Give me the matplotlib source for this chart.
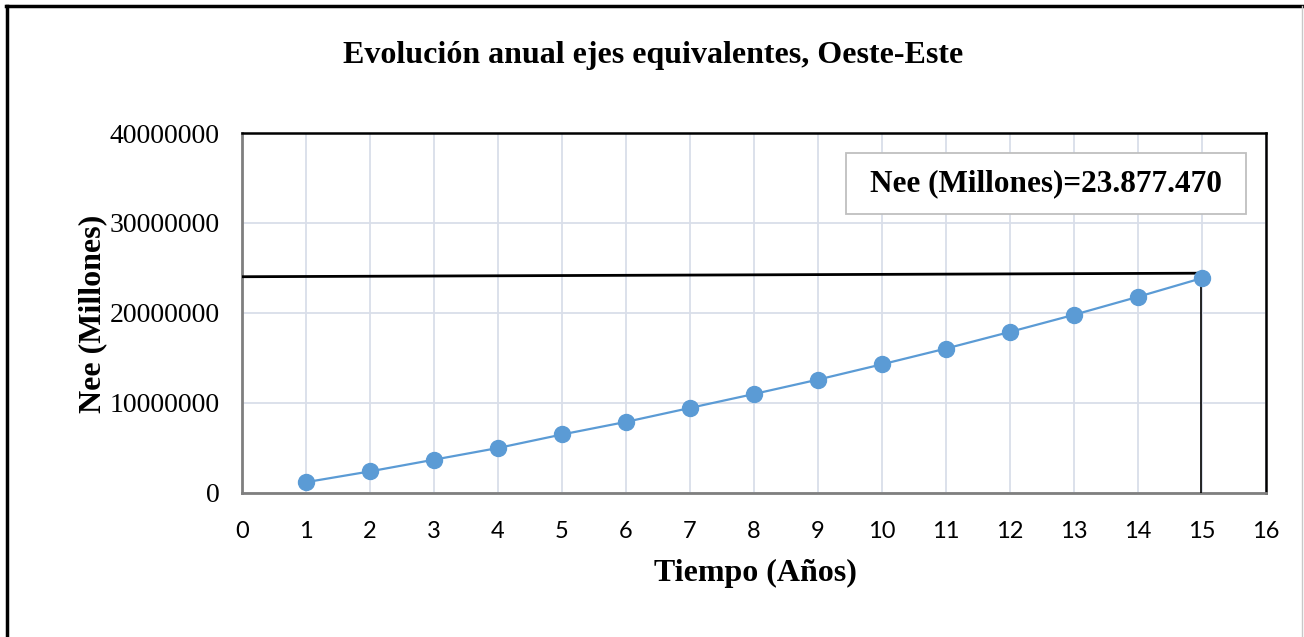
import matplotlib.pyplot as plt
from matplotlib.lines import Line2D
from matplotlib.patches import Rectangle

# años y ejes equivalentes acumulados
years = [1, 2, 3, 4, 5, 6, 7, 8, 9, 10, 11, 12, 13, 14, 15]
nee = [1.2e6, 2.4e6, 3.7e6, 5.0e6, 6.5e6, 7.9e6, 9.45e6, 11.0e6, 12.6e6,
       14.3e6, 16.05e6, 17.9e6, 19.8e6, 21.8e6, 23.877470e6]

# líneas de referencia dibujadas a mano
href_x = [0, 14.92]
href_y = [24.03e6, 24.42e6]
vref_x = [14.99, 14.99]
vref_y = [24.2e6, 0]

xticks = list(range(0, 17))
yticks = [0, 10000000, 20000000, 30000000, 40000000]

SERIF = ["Liberation Serif", "DejaVu Serif"]
SANS = ["Lato", "Liberation Sans", "DejaVu Sans"]
BLUE = "#5B9BD5"
GRID = "#D9DEE9"

fig = plt.figure(figsize=(13.04, 6.37), dpi=100)
ax = fig.add_axes([0.1856, 0.2261, 0.7853, 0.5651])

ax.plot(years, nee, color=BLUE, lw=1.6, marker="o", ms=11.5,
        markerfacecolor=BLUE, markeredgecolor=BLUE, zorder=4)
ax.plot(href_x, href_y, color="black", lw=2.0, zorder=3)
ax.plot(vref_x, vref_y, color="black", lw=1.2, zorder=3)

ax.set_xlim(0, 16)
ax.set_ylim(0, 40000000)
ax.set_xticks(xticks)
ax.set_yticks(yticks)
ax.set_xticklabels([str(t) for t in xticks], family=SANS, fontsize=17)
ax.set_yticklabels([str(t) for t in yticks], family=SERIF, fontsize=20)
ax.tick_params(axis="both", length=0)
ax.tick_params(axis="x", pad=20)
ax.tick_params(axis="y", pad=16)
ax.grid(True, color=GRID, lw=1.3, zorder=0)
ax.set_axisbelow(True)

for side in ("top", "right"):
    ax.spines[side].set_color("black")
    ax.spines[side].set_linewidth(1.8)
for side in ("left", "bottom"):
    ax.spines[side].set_color("#7F7F7F")
    ax.spines[side].set_linewidth(2.0)

# cuadro de anotación
ax.add_patch(Rectangle((0.590, 0.775), 0.390, 0.169, transform=ax.transAxes,
                       fc="white", ec="#BFBFBF", lw=1.3, zorder=5))
ax.text(0.785, 0.86, "Nee (Millones)=23.877.470", transform=ax.transAxes,
        ha="center", va="center", family=SERIF, fontsize=22.5,
        fontweight="bold", zorder=6)

fig.text(0.501, 0.913, "Evolución anual ejes equivalentes, Oeste-Este",
         ha="center", va="center", family=SERIF, fontsize=23, fontweight="bold")
fig.text(0.071, 0.507, "Nee (Millones)", rotation=90, ha="center", va="center",
         family=SERIF, fontsize=23, fontweight="bold")
fig.text(0.579, 0.100, "Tiempo (Años)", ha="center", va="center",
         family=SERIF, fontsize=23, fontweight="bold")

# marco exterior
fig.add_artist(Line2D([0.0055, 0.0055], [0.0, 0.990], transform=fig.transFigure,
                      color="black", lw=2.5))
fig.add_artist(Line2D([0.0045, 0.9985], [0.990, 0.990], transform=fig.transFigure,
                      color="black", lw=2.5))
fig.add_artist(Line2D([0.9985, 0.9985], [0.0, 0.990], transform=fig.transFigure,
                      color="#C8C8C8", lw=1.0))

fig.savefig("out.png", dpi=100, facecolor="white")
